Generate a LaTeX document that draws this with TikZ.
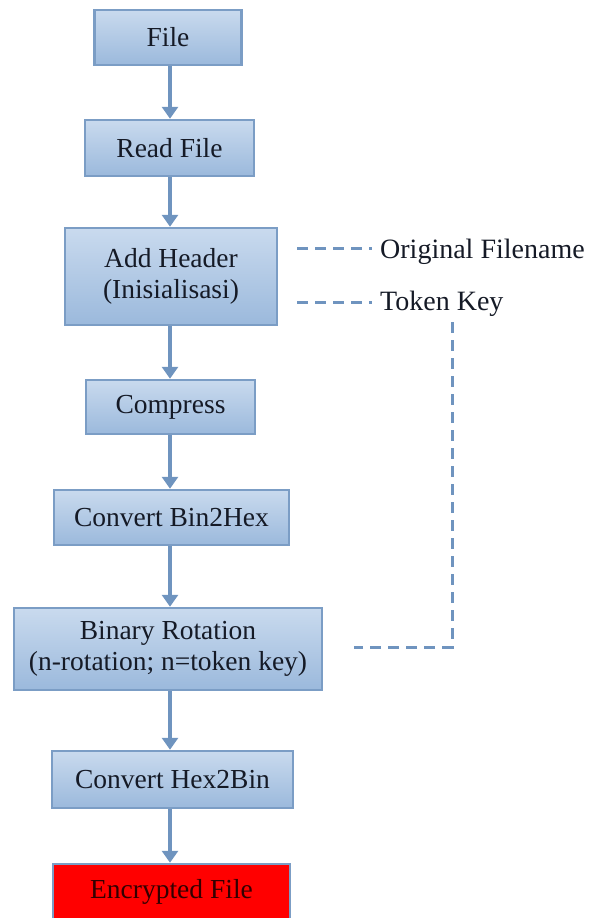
\documentclass[tikz,border=0pt]{standalone}
\usepackage{fontspec}
\setmainfont{Liberation Serif}
\usetikzlibrary{arrows.meta}
\definecolor{boxline}{HTML}{7B9DC5}
\definecolor{boxtop}{HTML}{C9DAEE}
\definecolor{boxbot}{HTML}{9BB9DC}
\definecolor{arr}{HTML}{6F94BF}
\definecolor{txt}{HTML}{151A26}
\begin{document}
\begin{tikzpicture}[x=1pt,y=-1pt,
  basebox/.style={draw=boxline,line width=2.5pt,
    inner sep=0pt,align=center,text=txt,font=\fontsize{27.5}{31}\selectfont},
  flowbox/.style={basebox,top color=boxtop,bottom color=boxbot},
  endbox/.style={basebox,fill=red,text=black!80!red},
  flowarrow/.style={draw=arr,line width=4pt,-{Triangle[width=16pt,length=12pt]}},
  dashline/.style={draw=arr,line width=3pt,dash pattern=on 11pt off 7pt},
  lbl/.style={anchor=west,inner sep=0pt,text=txt,font=\fontsize{28}{31}\selectfont}]
\useasboundingbox (0,0) rectangle (594,918);
\node[flowbox,minimum width=147pt,minimum height=55pt] (file) at (168,37.5) {File};
\node[flowbox,minimum width=169pt,minimum height=56pt] (read) at (169.5,148) {Read File};
\node[flowbox,minimum width=212pt,minimum height=97pt] (hdr) at (171,276.5) {Add Header\\(Inisialisasi)};
\node[flowbox,minimum width=169pt,minimum height=54pt] (comp) at (170.5,407) {Compress};
\node[flowbox,minimum width=235pt,minimum height=55pt] (b2h) at (171.5,517.5) {Convert Bin2Hex};
\node[flowbox,minimum width=308pt,minimum height=82pt] (rot) at (168,649) {Binary Rotation\\(n-rotation; n=token key)};
\node[flowbox,minimum width=241pt,minimum height=57pt] (h2b) at (172.5,779.5) {Convert Hex2Bin};
\node[endbox,minimum width=237pt,minimum height=56pt] (enc) at (171.5,892) {Encrypted File};

\foreach \a/\b in {file/read,read/hdr,hdr/comp,comp/b2h,b2h/rot,rot/h2b,h2b/enc}
  \draw[flowarrow] (\a.south -| 170,0) -- (\b.north -| 170,0);

\node[lbl] (orig) at (380,252) {Original Filename};
\node[lbl] (tok) at (380,304) {Token Key};
\coordinate (o1) at (297,248);
\coordinate (t1) at (297,302);
\coordinate (v1) at (452,322);
\coordinate (corner) at (452,647);
\coordinate (r1) at (354,647);
\draw[dashline] (o1) -- ([xshift=-8pt]orig.west |- o1);
\draw[dashline] (t1) -- ([xshift=-8pt]tok.west |- t1);
\draw[dashline] (v1) -- (corner) -- (r1);
\end{tikzpicture}
\end{document}
